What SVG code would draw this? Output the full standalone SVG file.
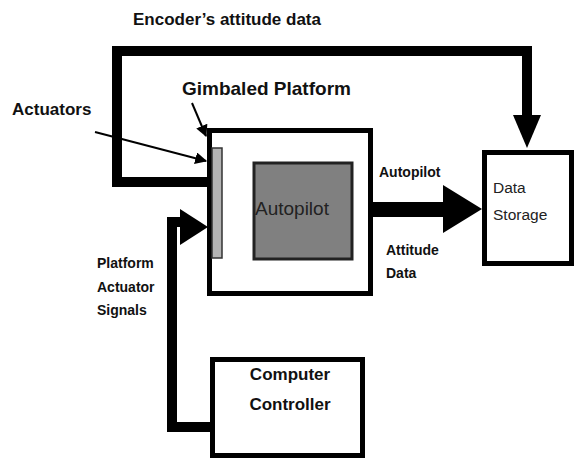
<svg xmlns="http://www.w3.org/2000/svg" width="579" height="459" viewBox="0 0 579 459">
<style>
  .lbl { font-family: "Liberation Sans", Arial, sans-serif; font-weight: bold; fill: #111; }
  .reg { font-family: "Liberation Sans", Arial, sans-serif; fill: #222; }
  .box { fill: #fff; stroke: #000; stroke-width: 5; }
  .wire { fill: none; stroke: #000; stroke-width: 10; stroke-linejoin: miter; }
  .head { fill: #000; }
  .ptr { stroke: #000; stroke-width: 2; fill: none; }
</style>
<defs>
  <marker id="ah" viewBox="0 0 10 10" refX="9" refY="5" markerWidth="6" markerHeight="6" orient="auto" markerUnits="strokeWidth">
    <path d="M0,0 L10,5 L0,10 z" fill="#000"/>
  </marker>
</defs>
<rect width="579" height="459" fill="#fff"/>

<text class="lbl" x="133" y="25" font-size="17">Encoder’s attitude data</text>
<text class="lbl" x="182" y="95" font-size="19">Gimbaled Platform</text>
<text class="lbl" x="12" y="115" font-size="17">Actuators</text>

<g id="platform">
  <rect class="box" x="209.5" y="130.5" width="161" height="163"/>
</g>
<g id="actuator">
  <rect x="212" y="148" width="10" height="110" fill="#b4b4b4" stroke="#333" stroke-width="1.5"/>
</g>
<g id="autopilot">
  <rect x="254" y="163" width="98" height="96" fill="#808080" stroke="#222" stroke-width="3"/>
  <text class="reg" x="255" y="215" font-size="19">Autopilot</text>
</g>
<g id="datastorage">
  <rect class="box" x="484.5" y="152.5" width="87" height="111"/>
  <text class="reg" x="493" y="193" font-size="15.5">Data</text>
  <text class="reg" x="493" y="220" font-size="15.5">Storage</text>
</g>
<g id="controller">
  <rect class="box" x="212.5" y="359.5" width="150" height="96"/>
  <text class="lbl" x="290" y="380" font-size="17" text-anchor="middle">Computer</text>
  <text class="lbl" x="290" y="410" font-size="17" text-anchor="middle">Controller</text>
</g>

<g id="connectors">
  <polyline class="wire" points="208,182 117,182 117,51 527,51 527,118"/>
  <polygon class="head" points="513,115 541,115 527,148"/>
  <rect x="372" y="202" width="73" height="15" fill="#000"/>
  <polygon class="head" points="443,185 443,233 482,209"/>
  <polyline class="wire" points="212,427 172,427 172,222 182,222"/>
  <polygon class="head" points="180,209 180,245 208,227"/>
  <line class="ptr" x1="95" y1="132" x2="206" y2="161" marker-end="url(#ah)"/>
  <line class="ptr" x1="192" y1="103" x2="206" y2="136" marker-end="url(#ah)"/>
</g>

<text class="lbl" x="379" y="177" font-size="14">Autopilot</text>
<text class="lbl" x="386" y="255" font-size="14">Attitude</text>
<text class="lbl" x="386" y="278" font-size="14">Data</text>
<text class="lbl" x="97" y="268" font-size="14">Platform</text>
<text class="lbl" x="97" y="292" font-size="14">Actuator</text>
<text class="lbl" x="97" y="315" font-size="14">Signals</text>
</svg>
